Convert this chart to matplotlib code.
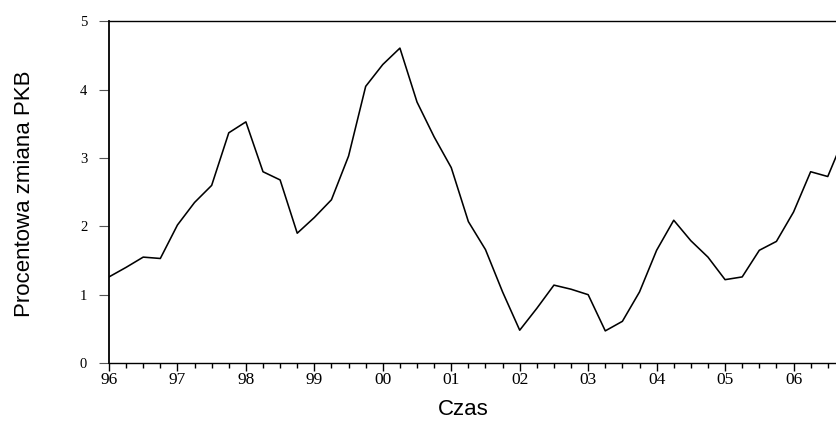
import numpy as np
import pandas as pd
import matplotlib
matplotlib.use('Agg')
import matplotlib.pyplot as plt
from matplotlib.ticker import FixedLocator, MultipleLocator

# --- Data: quarterly % change of GDP ---
quarters = pd.period_range('1996Q1', '2006Q4', freq='Q')
gdp_change = [
    1.26, 1.40, 1.55, 1.53,   # 1996
    2.02, 2.35, 2.60, 3.37,   # 1997
    3.53, 2.80, 2.68, 1.90,   # 1998
    2.13, 2.39, 3.03, 4.05,   # 1999
    4.37, 4.61, 3.82, 3.31,   # 2000
    2.86, 2.07, 1.66, 1.04,   # 2001
    0.48, 0.80, 1.14, 1.08,   # 2002
    1.00, 0.47, 0.61, 1.04,   # 2003
    1.65, 2.09, 1.79, 1.55,   # 2004
    1.22, 1.26, 1.65, 1.78,   # 2005
    2.21, 2.80, 2.73, 3.33,   # 2006
]
years = list(range(1996, 2007))
year_labels = ['96', '97', '98', '99', '00', '01', '02', '03', '04', '05', '06']
y_ticks = [0, 1, 2, 3, 4, 5]

x = np.array([q.year + (q.quarter - 1) / 4 for q in quarters])

fig = plt.figure(figsize=(8.37, 4.21), dpi=100)
ax = fig.add_axes([0.1302, 0.1378, 0.8698, 0.8112])

ax.plot(x, gdp_change, color='black', linewidth=1.15)

ax.set_xlim(1996, 2006.635)
ax.set_ylim(0, 5)

ax.xaxis.set_major_locator(FixedLocator(years))
ax.set_xticklabels(year_labels, family='Liberation Serif', fontsize=12.5)
ax.xaxis.set_minor_locator(MultipleLocator(0.25))
ax.set_yticks(y_ticks)
ax.set_yticklabels([str(v) for v in y_ticks], family='Liberation Serif', fontsize=10.5)

ax.tick_params(axis='x', which='major', direction='out', length=6, width=1.0, pad=0.5)
ax.tick_params(axis='x', which='minor', direction='out', length=3.6, width=1.0)
ax.tick_params(axis='y', which='major', direction='out', length=7.2, width=0.8,
               color='#555555', pad=8.5)

ax.spines['right'].set_visible(False)
ax.spines['left'].set_linewidth(1.3)
ax.spines['top'].set_linewidth(1.0)
ax.spines['bottom'].set_linewidth(1.0)

fig.text(25 / 837, 1 - 194 / 421, 'Procentowa zmiana PKB', rotation=90,
         ha='center', va='center', family='Liberation Sans', fontsize=16)
fig.text(463 / 837, 1 / 421, 'Czas', ha='center', va='bottom',
         family='Liberation Sans', fontsize=16)

fig.savefig('out.png', dpi=100)
